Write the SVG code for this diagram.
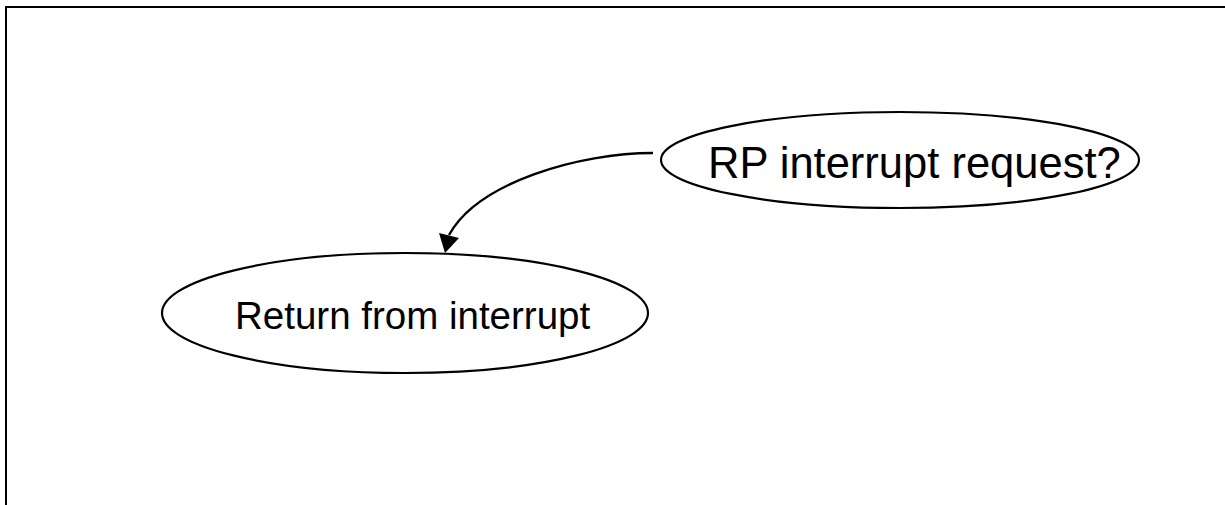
<svg xmlns="http://www.w3.org/2000/svg" width="1225" height="505" viewBox="0 0 1225 505">
<style>
.node ellipse{fill:#fff;stroke:#000;stroke-width:2.2}
.node text{font-family:"Liberation Sans",Arial,sans-serif;fill:#000}
.edge{fill:none;stroke:#000;stroke-width:2.4}
.frame{fill:none;stroke:#000;stroke-width:2}
</style>
<rect width="1225" height="505" fill="#fff"/>
<path class="frame" d="M6,505 V7 H1225"/>
<g id="connectors">
<path class="edge" d="M653,153 C580,153 478,182 449,235"/>
<polygon points="439,233 459,238 445,253" fill="#000"/>
</g>
<g id="node-rp" class="node">
<ellipse cx="900" cy="160" rx="239" ry="48"/>
<text x="708" y="178" font-size="43.5">RP interrupt request?</text>
</g>
<g id="node-return" class="node">
<ellipse cx="405" cy="313" rx="243" ry="60"/>
<text x="235" y="329" font-size="38.5">Return from interrupt</text>
</g>
</svg>
